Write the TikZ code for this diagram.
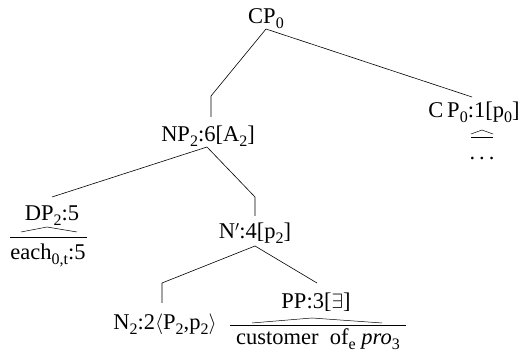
\documentclass[tikz,border=0pt]{standalone}
\usepackage{fontspec}
\setmainfont{Liberation Serif}
\newcommand{\sbs}[1]{\raisebox{-0.2em}{\fontsize{16}{16}\selectfont #1}}
\tikzset{
  lab/.style={anchor=base, inner sep=0pt, font=\fontsize{22.5}{26}\selectfont},
  edge/.style={line width=0.6pt},
  roof/.style={line width=0.5pt}
}
\begin{document}
\begin{tikzpicture}[x=1pt,y=-1pt]
\useasboundingbox (0,0) rectangle (523,355);
% nodes
\node[lab] (cp)  at (266,24)  {CP\sbs{0}};
\node[lab] (np)  at (208,142) {NP\sbs{2}:6[A\sbs{2}]};
\node[lab] (cpr) at (474,118) {C\,P\sbs{0}:1[p\sbs{0}]};
\node[lab] (dots) at (482,160) {.\hspace{4pt}.\hspace{4pt}.};
\node[lab] (dp)  at (52,221)  {DP\sbs{2}:5};
\node[lab] (each) at (48,260) {each\sbs{0,t}:5};
\node[lab] (nb)  at (255,239) {N$'$:4[p\sbs{2}]};
\node[lab] (n2)  at (165,330) {N\sbs{2}:2$\langle$P\sbs{2},p\sbs{2}$\rangle$};
\node[lab] (pp)  at (316,309) {PP:3[$\exists$]};
\node[lab] (cust) at (318,345) {customer\enspace of\sbs{e} \textit{pro}\sbs{3}};
% attachment points
\coordinate (cpB) at (266,29);
\coordinate (e1)  at (211,96);
\coordinate (npT) at (211,117);
\coordinate (cprT) at (472,97);
\coordinate (npB) at (207,147);
\coordinate (dpT) at (52,197);
\coordinate (e2)  at (255,197);
\coordinate (nbT) at (255,216);
\coordinate (nbB) at (255,246);
\coordinate (e3)  at (162,283);
\coordinate (n2T) at (162,303);
\coordinate (ppT) at (317,283);
% edges
\draw[edge] (cpB) -- (e1) -- (npT);
\draw[edge] (cpB) -- (cprT);
\draw[edge] (npB) -- (dpT);
\draw[edge] (npB) -- (e2) -- (nbT);
\draw[edge] (nbB) -- (e3) -- (n2T);
\draw[edge] (nbB) -- (ppT);
% roofs
\draw[roof] (21,232) -- (47,227) -- (77,232);
\draw[edge] (10,237) -- (87,237);
\draw[roof] (252,323) -- (312,318) -- (382,323);
\draw[edge] (230,325) -- (406,325);
\draw[roof] (471,134) -- (482,130) -- (493,134);
\draw[edge] (471,137) -- (493,137);
\end{tikzpicture}
\end{document}
